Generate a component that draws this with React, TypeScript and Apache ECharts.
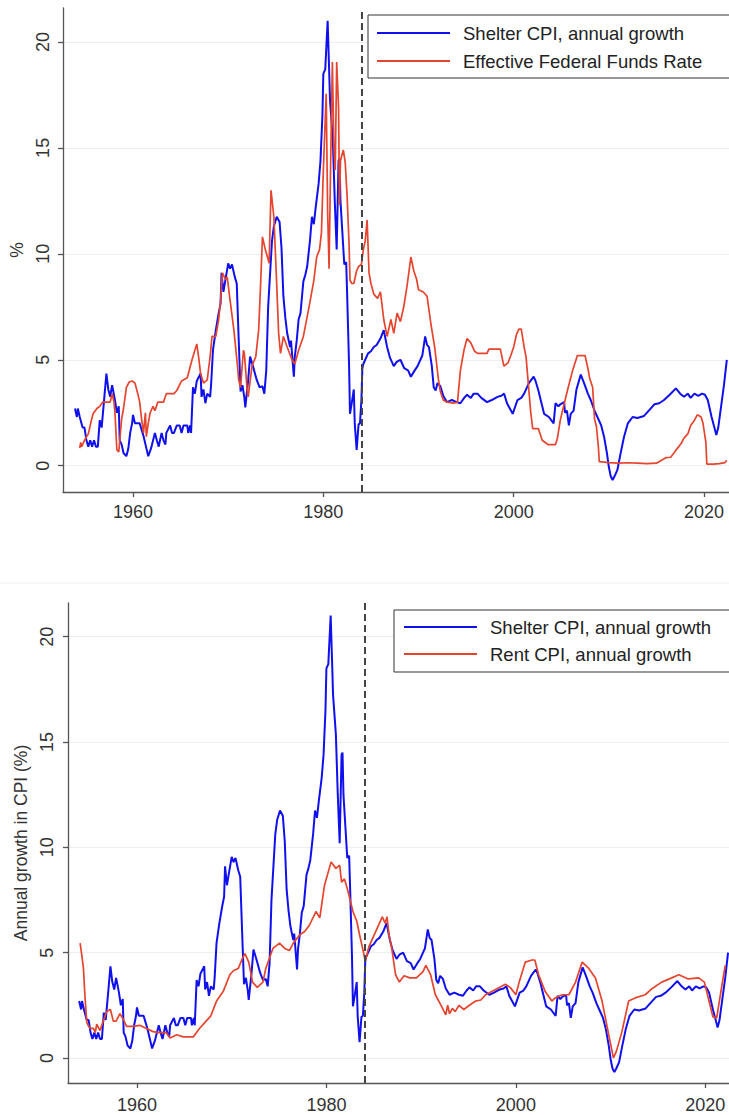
import React, { useEffect, useRef } from "react";
import * as echarts from "echarts";

// [year, annual growth %]
const shelterCpi: [number, number][] = [
  [1953.9, 2.7], [1954.1, 2.3], [1954.2, 2.7], [1954.4, 2.3], [1954.7, 1.8], [1954.9, 1.8],
  [1955.1, 1.2], [1955.3, 0.9], [1955.5, 1.2], [1955.7, 0.9], [1955.9, 1.2], [1956.1, 0.9],
  [1956.3, 0.9], [1956.5, 2.15], [1956.7, 1.8], [1956.9, 2.8], [1957.2, 4.35], [1957.4, 3.6],
  [1957.6, 3.25], [1957.8, 3.8], [1958.1, 3.1], [1958.3, 2.5], [1958.5, 2.8], [1958.6, 1.2],
  [1958.8, 1.0], [1959.0, 0.6], [1959.3, 0.45], [1959.5, 0.8], [1959.7, 1.55], [1959.9, 2.0],
  [1960.0, 2.4], [1960.2, 2.0], [1960.4, 2.0], [1960.7, 2.0], [1960.9, 1.7], [1961.1, 1.4],
  [1961.4, 0.83], [1961.6, 0.45], [1961.9, 0.83], [1962.3, 1.55], [1962.5, 1.2], [1962.7, 0.9],
  [1963.0, 1.55], [1963.2, 1.2], [1963.4, 1.0], [1963.5, 1.55], [1963.9, 1.9], [1964.1, 1.55],
  [1964.3, 1.55], [1964.6, 1.9], [1964.9, 1.9], [1965.1, 1.55], [1965.3, 1.9], [1965.7, 1.9],
  [1965.8, 1.55], [1966.0, 1.9], [1966.1, 1.55], [1966.3, 3.7], [1966.5, 3.4], [1966.7, 4.0],
  [1967.1, 4.35], [1967.2, 3.25], [1967.4, 3.6], [1967.6, 2.95], [1967.8, 3.4], [1968.1, 3.25],
  [1968.2, 3.8], [1968.4, 5.45], [1968.7, 6.4], [1969.0, 7.2], [1969.2, 7.65], [1969.3, 9.1],
  [1969.5, 8.2], [1969.7, 8.75], [1970.0, 9.55], [1970.2, 9.3], [1970.4, 9.5], [1970.7, 8.9],
  [1970.9, 8.6], [1971.1, 6.0], [1971.3, 3.5], [1971.5, 3.8], [1971.7, 3.2], [1971.8, 2.75],
  [1972.1, 4.05], [1972.3, 5.15], [1972.6, 4.7], [1973.0, 4.05], [1973.3, 3.7], [1973.6, 3.75],
  [1973.8, 3.4], [1974.0, 4.5], [1974.2, 7.5], [1974.6, 10.6], [1974.8, 11.3], [1975.1, 11.75],
  [1975.4, 11.5], [1975.6, 10.3], [1975.8, 8.0], [1976.0, 7.0], [1976.2, 6.25], [1976.5, 5.6],
  [1976.6, 5.9], [1976.9, 4.2], [1977.0, 5.15], [1977.2, 5.9], [1977.4, 6.9], [1977.6, 7.2],
  [1977.9, 8.7], [1978.1, 9.0], [1978.3, 9.4], [1978.6, 10.65], [1978.8, 11.75], [1979.0, 11.4],
  [1979.2, 12.2], [1979.5, 13.3], [1979.7, 14.4], [1979.9, 16.5], [1980.0, 18.5], [1980.2, 18.7],
  [1980.45, 21.0], [1980.6, 18.8], [1980.7, 17.25], [1981.0, 15.35], [1981.2, 12.5], [1981.4, 10.2],
  [1981.6, 14.4], [1981.7, 14.5], [1981.8, 12.5], [1982.0, 11.0], [1982.2, 9.5], [1982.4, 9.6],
  [1982.5, 8.1], [1982.7, 4.8], [1982.8, 2.45], [1983.0, 3.0], [1983.2, 3.6], [1983.3, 2.0],
  [1983.5, 0.75], [1983.7, 1.95], [1983.85, 2.0], [1984.0, 3.1], [1984.1, 4.6], [1984.2, 4.8],
  [1984.4, 5.0], [1984.7, 5.3], [1985.0, 5.4], [1985.3, 5.6], [1985.6, 5.7], [1986.0, 6.0],
  [1986.35, 6.4], [1986.7, 5.6], [1987.0, 5.1], [1987.4, 4.7], [1987.7, 4.9], [1988.1, 5.0],
  [1988.5, 4.6], [1988.9, 4.5], [1989.2, 4.2], [1989.6, 4.5], [1989.9, 4.7], [1990.4, 5.2],
  [1990.7, 6.1], [1990.9, 5.7], [1991.1, 5.6], [1991.4, 4.7], [1991.6, 3.7], [1991.8, 3.55],
  [1992.0, 3.9], [1992.3, 3.75], [1992.6, 3.3], [1993.0, 3.0], [1993.5, 3.1], [1994.0, 3.0],
  [1994.4, 2.95], [1994.8, 3.2], [1995.1, 3.35], [1995.5, 3.2], [1995.8, 3.4], [1996.2, 3.4],
  [1996.6, 3.2], [1997.2, 3.0], [1997.7, 3.1], [1998.3, 3.25], [1998.7, 3.3], [1999.0, 3.4],
  [1999.3, 2.95], [1999.9, 2.45], [2000.4, 3.1], [2000.8, 3.2], [2001.1, 3.4], [2001.6, 3.9],
  [2002.1, 4.2], [2002.3, 4.0], [2002.6, 3.55], [2002.9, 3.0], [2003.2, 2.45], [2003.7, 2.3],
  [2004.2, 2.0], [2004.4, 2.95], [2004.7, 2.8], [2004.9, 2.9], [2005.3, 3.0], [2005.4, 2.5],
  [2005.6, 2.6], [2005.8, 1.9], [2006.0, 2.45], [2006.3, 2.6], [2006.6, 3.6], [2007.05, 4.3],
  [2007.4, 3.9], [2007.8, 3.4], [2008.1, 3.1], [2008.5, 2.6], [2008.8, 2.3], [2009.2, 1.9],
  [2009.5, 1.37], [2009.8, 0.6], [2010.0, -0.05], [2010.2, -0.5], [2010.4, -0.67], [2010.6, -0.5],
  [2010.9, -0.2], [2011.2, 0.5], [2011.6, 1.37], [2012.0, 2.0], [2012.5, 2.3], [2013.0, 2.25],
  [2013.7, 2.35], [2014.2, 2.6], [2014.8, 2.9], [2015.3, 2.95], [2015.8, 3.1], [2016.4, 3.35],
  [2017.05, 3.65], [2017.5, 3.4], [2017.9, 3.25], [2018.3, 3.4], [2018.6, 3.2], [2019.0, 3.4],
  [2019.4, 3.3], [2019.8, 3.4], [2020.1, 3.35], [2020.4, 3.1], [2020.8, 2.3], [2021.3, 1.45],
  [2021.5, 1.8], [2021.8, 2.8], [2022.1, 3.8], [2022.4, 5.0],
];

const fedFunds: [number, number][] = [
  [1954.4, 0.83], [1954.5, 1.1], [1954.6, 0.9], [1954.9, 1.2], [1955.3, 1.5], [1955.6, 2.1],
  [1955.8, 2.45], [1956.2, 2.7], [1956.5, 2.8], [1956.8, 3.0], [1957.2, 3.0], [1957.6, 3.0],
  [1957.8, 3.4], [1958.0, 3.0], [1958.1, 2.5], [1958.3, 0.75], [1958.5, 0.65], [1958.8, 2.2],
  [1959.0, 2.7], [1959.3, 3.7], [1959.6, 3.95], [1959.9, 4.0], [1960.2, 3.9], [1960.5, 3.4],
  [1960.7, 3.0], [1960.9, 2.2], [1961.1, 1.55], [1961.3, 2.5], [1961.4, 1.37], [1961.6, 2.0],
  [1961.8, 2.5], [1962.1, 2.8], [1962.3, 2.6], [1962.6, 3.0], [1963.2, 3.0], [1963.5, 3.4],
  [1964.0, 3.4], [1964.3, 3.4], [1964.6, 3.55], [1965.1, 4.0], [1965.7, 4.15], [1966.2, 5.0],
  [1966.7, 5.75], [1966.9, 5.1], [1967.1, 4.35], [1967.4, 3.9], [1967.8, 4.05], [1968.1, 5.15],
  [1968.3, 6.1], [1968.7, 6.1], [1969.0, 6.9], [1969.2, 7.8], [1969.4, 9.1], [1969.7, 8.8],
  [1969.9, 8.9], [1970.2, 7.8], [1970.6, 6.4], [1971.0, 4.6], [1971.1, 4.05], [1971.3, 3.7],
  [1971.6, 5.45], [1971.7, 5.3], [1972.0, 3.55], [1972.1, 3.25], [1972.5, 4.7], [1972.9, 5.15],
  [1973.2, 6.4], [1973.4, 8.5], [1973.6, 10.8], [1973.9, 10.2], [1974.1, 9.9], [1974.3, 9.55],
  [1974.5, 13.0], [1974.8, 11.75], [1975.05, 9.1], [1975.3, 6.25], [1975.5, 5.3], [1975.8, 6.1],
  [1976.2, 5.6], [1976.7, 5.0], [1977.0, 4.8], [1977.4, 5.45], [1977.9, 6.1], [1978.5, 7.5],
  [1979.0, 8.75], [1979.3, 9.85], [1979.6, 10.2], [1979.8, 11.0], [1980.0, 13.95], [1980.3, 17.55],
  [1980.45, 12.0], [1980.6, 9.3], [1980.8, 15.2], [1980.95, 19.05], [1981.1, 15.2], [1981.25, 13.95],
  [1981.4, 19.05], [1981.6, 16.9], [1981.7, 12.3], [1981.8, 14.4], [1982.1, 14.9], [1982.3, 14.3],
  [1982.5, 12.7], [1982.7, 10.5], [1982.8, 8.75], [1983.0, 8.6], [1983.2, 8.6], [1983.5, 9.2],
  [1983.7, 9.4], [1984.0, 9.5], [1984.2, 10.2], [1984.4, 10.6], [1984.6, 11.6], [1984.8, 9.1],
  [1985.0, 8.6], [1985.3, 8.1], [1985.7, 7.9], [1986.0, 8.2], [1986.35, 6.9], [1986.7, 6.1],
  [1987.1, 6.9], [1987.4, 6.25], [1987.75, 7.2], [1988.1, 6.8], [1988.45, 7.5], [1988.8, 8.5],
  [1989.2, 9.85], [1989.5, 9.2], [1989.8, 8.8], [1990.0, 8.3], [1990.5, 8.2], [1990.9, 8.0],
  [1991.3, 6.7], [1991.7, 5.6], [1992.1, 4.05], [1992.3, 3.5], [1992.6, 3.1], [1993.0, 3.0],
  [1993.7, 2.95], [1994.1, 3.0], [1994.4, 4.5], [1994.8, 5.5], [1995.1, 6.0], [1995.5, 5.8],
  [1995.9, 5.4], [1996.2, 5.3], [1996.7, 5.3], [1997.2, 5.3], [1997.4, 5.5], [1998.0, 5.5],
  [1998.6, 5.5], [1998.97, 4.7], [1999.4, 4.85], [1999.7, 5.2], [2000.0, 5.6], [2000.3, 6.2],
  [2000.55, 6.45], [2000.8, 6.45], [2001.1, 5.6], [2001.3, 5.15], [2001.6, 3.55], [2001.8, 2.5],
  [2002.0, 1.75], [2002.6, 1.75], [2003.0, 1.2], [2003.6, 1.0], [2004.4, 1.0], [2004.6, 1.3],
  [2004.9, 2.15], [2005.3, 2.9], [2005.65, 3.55], [2006.2, 4.5], [2006.7, 5.2], [2007.5, 5.2],
  [2007.8, 4.6], [2008.0, 4.1], [2008.3, 3.7], [2008.5, 2.2], [2008.7, 1.85], [2008.9, 0.9],
  [2009.0, 0.19], [2010.0, 0.15], [2011.0, 0.12], [2012.0, 0.14], [2013.0, 0.12], [2014.0, 0.1],
  [2015.0, 0.12], [2016.0, 0.38], [2016.5, 0.4], [2017.0, 0.7], [2017.6, 1.05], [2017.9, 1.3],
  [2018.3, 1.5], [2018.6, 1.9], [2019.0, 2.15], [2019.3, 2.4], [2019.7, 2.3], [2019.9, 2.0],
  [2020.2, 1.1], [2020.3, 0.08], [2021.0, 0.08], [2021.6, 0.1], [2022.2, 0.15], [2022.4, 0.25],
];

const rentCpi: [number, number][] = [
  [1954.0, 5.45], [1954.2, 4.8], [1954.35, 4.25], [1954.5, 3.0], [1954.7, 1.7], [1954.9, 1.5],
  [1955.1, 1.4], [1955.4, 1.4], [1955.6, 1.2], [1955.75, 1.6], [1956.1, 1.3], [1956.4, 1.7],
  [1956.8, 2.2], [1957.2, 2.3], [1957.5, 1.75], [1957.8, 1.75], [1958.2, 2.1], [1958.6, 1.8],
  [1958.9, 1.5], [1959.6, 1.5], [1960.3, 1.55], [1961.0, 1.4], [1961.7, 1.25], [1962.4, 1.2],
  [1963.1, 1.2], [1963.5, 0.95], [1964.2, 1.1], [1964.9, 1.0], [1965.95, 1.0], [1966.6, 1.4],
  [1967.3, 1.75], [1967.8, 2.0], [1968.4, 2.7], [1969.1, 3.15], [1969.8, 3.95], [1970.2, 4.15],
  [1970.7, 4.25], [1971.1, 4.7], [1971.4, 4.95], [1971.8, 4.55], [1972.2, 3.6], [1972.7, 3.35],
  [1973.3, 3.6], [1973.6, 4.25], [1974.35, 5.2], [1975.05, 5.45], [1975.6, 5.2], [1976.1, 5.1],
  [1976.5, 5.45], [1977.2, 5.85], [1977.7, 6.0], [1978.2, 6.3], [1978.9, 6.95], [1979.3, 6.65],
  [1979.8, 8.2], [1980.3, 9.0], [1980.5, 9.3], [1981.0, 9.0], [1981.4, 9.15], [1981.6, 8.35],
  [1981.9, 8.5], [1982.2, 8.05], [1982.8, 6.95], [1983.2, 6.5], [1983.5, 5.85], [1983.9, 5.05],
  [1984.1, 4.6], [1984.5, 5.3], [1985.2, 6.0], [1985.9, 6.7], [1986.2, 6.4], [1986.4, 6.7],
  [1986.6, 5.85], [1986.9, 5.2], [1987.3, 3.95], [1987.7, 3.6], [1988.2, 3.9], [1988.8, 3.8],
  [1989.5, 3.8], [1990.2, 4.1], [1990.5, 4.4], [1991.0, 3.95], [1991.5, 3.0], [1992.1, 2.5],
  [1992.6, 2.05], [1992.8, 2.5], [1993.0, 2.1], [1993.3, 2.35], [1993.6, 2.2], [1994.0, 2.5],
  [1994.5, 2.3], [1995.1, 2.5], [1995.75, 2.7], [1996.3, 2.75], [1996.8, 3.0], [1997.85, 3.25],
  [1998.9, 3.5], [1999.4, 3.35], [2000.0, 3.0], [2000.35, 3.6], [2001.0, 4.55], [2001.7, 4.65],
  [2002.0, 4.65], [2002.4, 3.95], [2003.1, 3.15], [2003.8, 2.7], [2004.15, 2.85], [2004.9, 3.0],
  [2005.6, 3.0], [2006.3, 3.6], [2007.0, 4.55], [2007.7, 4.25], [2008.4, 3.8], [2009.1, 2.7],
  [2009.8, 1.1], [2010.3, 0.0], [2010.6, 0.3], [2011.2, 1.25], [2011.9, 2.7], [2012.6, 2.85],
  [2013.65, 3.0], [2014.4, 3.3], [2015.4, 3.6], [2016.45, 3.8], [2017.2, 3.95], [2018.2, 3.75],
  [2019.3, 3.8], [2019.9, 3.6], [2020.5, 2.5], [2020.8, 1.95], [2021.2, 1.9], [2021.7, 3.3],
  [2022.1, 4.4],
];

const yTicks = [0, 5, 10, 15, 20];
const xTicks = [1960, 1980, 2000, 2020];
const breakYear = 1984;

const SHELTER = "Shelter CPI, annual growth";
const FFR = "Effective Federal Funds Rate";
const RENT = "Rent CPI, annual growth";

const FONT = "'Liberation Sans', Arial, sans-serif";
const BLUE = "#1010ee";
const RED = "#e5452e";
const AXIS = "#555";

function xAxisFor(gridIndex: number, min: number, max: number, margin: number) {
  return {
    type: "value",
    gridIndex,
    min,
    max,
    axisLine: { show: true, onZero: false, lineStyle: { color: AXIS, width: 1.3 } },
    axisTick: { show: true, customValues: xTicks, length: 5, lineStyle: { color: AXIS, width: 1.3 } },
    axisLabel: {
      customValues: xTicks,
      formatter: (v: number) => String(v),
      fontSize: 18,
      color: "#333",
      fontFamily: FONT,
      margin,
    },
    splitLine: { show: false },
  };
}

function yAxisFor(gridIndex: number, min: number, max: number, name: string, nameGap: number, margin: number) {
  return {
    type: "value",
    gridIndex,
    min,
    max,
    name,
    nameLocation: "middle",
    nameRotate: 90,
    nameGap,
    nameTextStyle: { fontSize: 17.5, color: "#333", fontFamily: FONT },
    axisLine: { show: true, onZero: false, lineStyle: { color: AXIS, width: 1.3 } },
    axisTick: { show: true, customValues: yTicks, length: 5, lineStyle: { color: AXIS, width: 1.3 } },
    axisLabel: { customValues: yTicks, rotate: 90, fontSize: 18, color: "#333", fontFamily: FONT, margin },
    splitLine: { show: true, lineStyle: { color: "#eceff2", width: 1 } },
  };
}

function breakLine() {
  return {
    silent: true,
    symbol: ["none", "none"],
    label: { show: false },
    lineStyle: { color: "#444", width: 2, type: [7, 4] },
    data: [{ xAxis: breakYear }],
  };
}

function legendFor(left: number, top: number, names: string[], gap: number, pad: number[]) {
  return {
    left,
    top,
    orient: "vertical",
    data: names,
    itemWidth: 73,
    itemHeight: 14,
    itemGap: gap,
    padding: pad,
    borderColor: "#333",
    borderWidth: 1,
    borderRadius: 0,
    backgroundColor: "#fff",
    selectedMode: false,
    itemStyle: { opacity: 0, borderWidth: 0 },
    textStyle: { fontSize: 18.5, color: "#222", fontFamily: FONT, lineHeight: 20, padding: [0, 0, 0, 8] },
  };
}

const App: React.FC = () => {
  const chartRef = useRef<HTMLDivElement>(null);

  useEffect(() => {
    if (!chartRef.current) return;
    const chart = echarts.init(chartRef.current, undefined, { renderer: "svg" });

    chart.setOption({
      animation: false,
      backgroundColor: "#fff",
      textStyle: { fontFamily: FONT },
      grid: [
        { left: 63, top: 8, width: 666, height: 484 },
        { left: 68, top: 603, width: 661, height: 480 },
      ],
      xAxis: [xAxisFor(0, 1952.64, 2022.63, 11), xAxisFor(1, 1952.72, 2022.5, 13)],
      yAxis: [
        yAxisFor(0, -1.24, 21.6, "%", 34, 11),
        yAxisFor(1, -1.19, 21.6, "Annual growth in CPI (%)", 36, 12),
      ],
      legend: [
        legendFor(368, 15, [SHELTER, FFR], 8, [8, 40, 7, 8]),
        legendFor(394, 610, [SHELTER, RENT], 7, [7, 40, 8, 9]),
      ],
      graphic: [
        {
          type: "line",
          shape: { x1: 0, y1: 583, x2: 729, y2: 583 },
          style: { stroke: "#eeeeee", lineWidth: 1 },
          silent: true,
        },
      ],
      series: [
        {
          name: SHELTER,
          type: "line",
          xAxisIndex: 0,
          yAxisIndex: 0,
          data: shelterCpi,
          symbol: "none",
          lineStyle: { color: BLUE, width: 2 },
          itemStyle: { color: BLUE },
          z: 3,
        },
        {
          name: FFR,
          type: "line",
          xAxisIndex: 0,
          yAxisIndex: 0,
          data: fedFunds,
          symbol: "none",
          lineStyle: { color: RED, width: 1.7 },
          itemStyle: { color: RED },
          markLine: breakLine(),
          z: 4,
        },
        {
          name: SHELTER,
          type: "line",
          xAxisIndex: 1,
          yAxisIndex: 1,
          data: shelterCpi,
          symbol: "none",
          lineStyle: { color: BLUE, width: 2 },
          itemStyle: { color: BLUE },
          z: 3,
        },
        {
          name: RENT,
          type: "line",
          xAxisIndex: 1,
          yAxisIndex: 1,
          data: rentCpi,
          symbol: "none",
          lineStyle: { color: RED, width: 1.7 },
          itemStyle: { color: RED },
          markLine: breakLine(),
          z: 4,
        },
      ],
    });

    return () => {
      chart.dispose();
    };
  }, []);

  return (
    <div
      ref={chartRef}
      style={{ position: "fixed", left: 0, top: 0, width: "729px", height: "1115px", background: "#fff" }}
    ></div>
  );
};

export default App;
